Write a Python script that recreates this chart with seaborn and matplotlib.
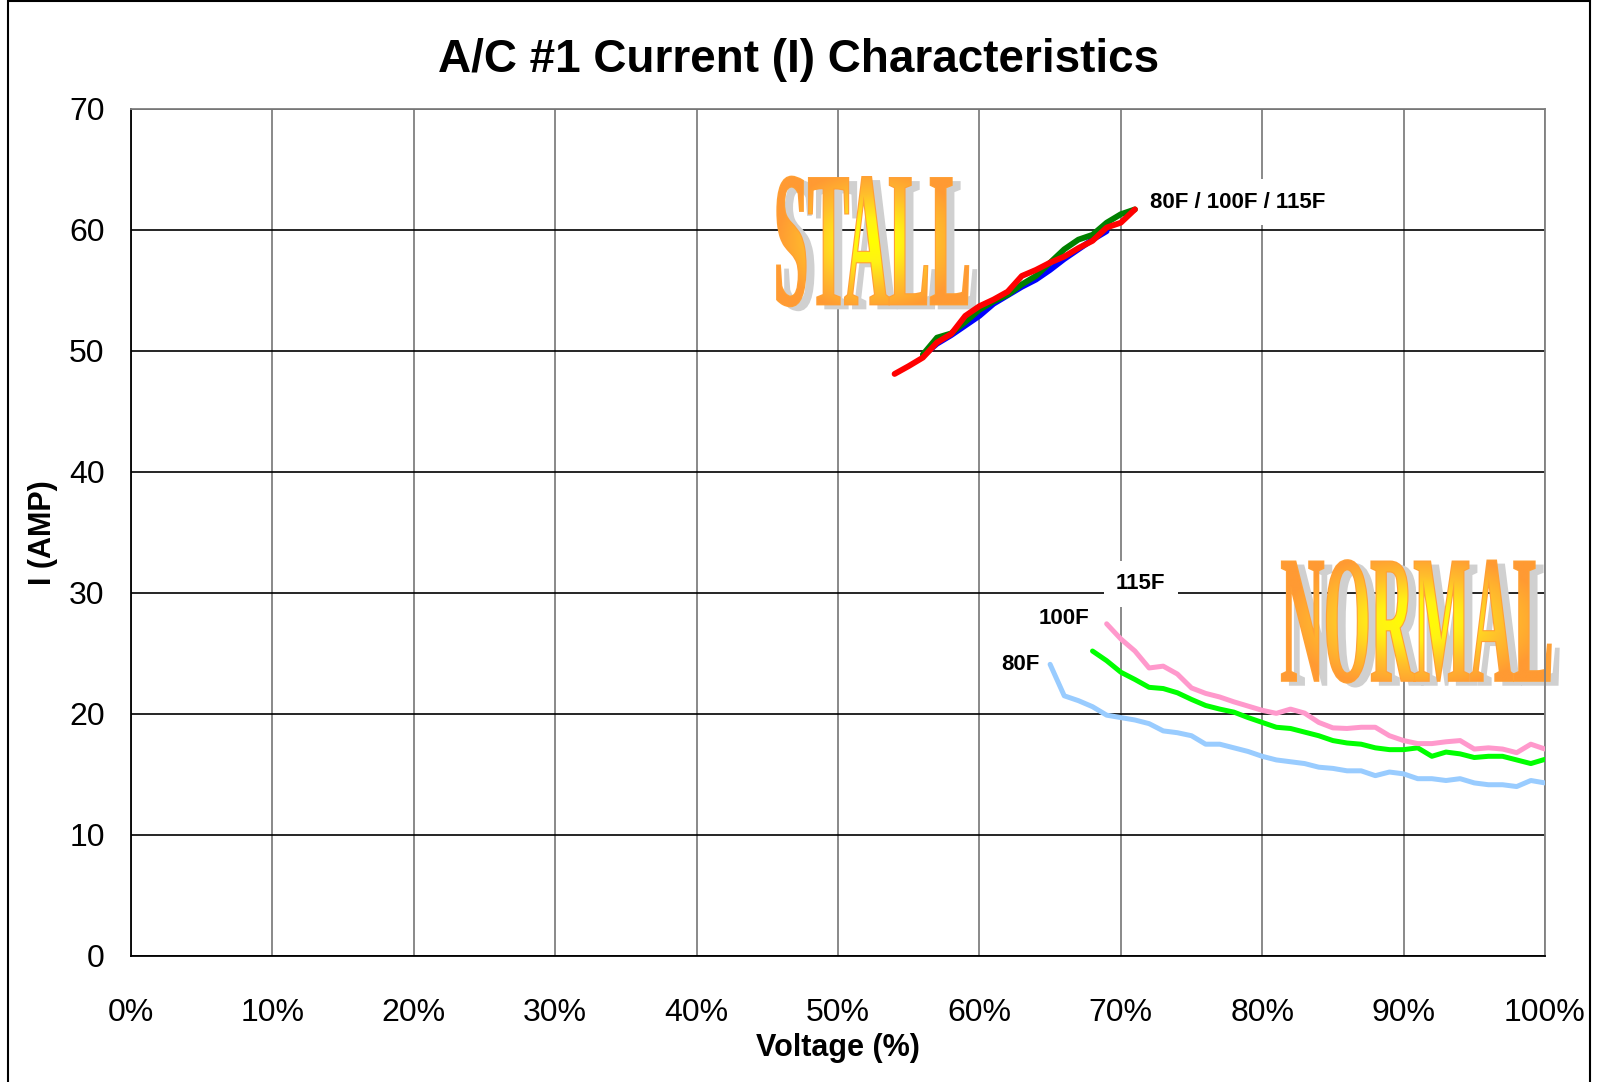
import numpy as np
import matplotlib
matplotlib.use("Agg")
import matplotlib.pyplot as plt
import seaborn as sns
from matplotlib import font_manager
from matplotlib.textpath import TextPath
from matplotlib.font_manager import FontProperties
from matplotlib.patches import PathPatch, Rectangle
from matplotlib.transforms import Affine2D
from matplotlib.colors import LinearSegmentedColormap

# ---- data (voltage in %, current in A) ----
stall_blue_x = list(range(56, 70))
stall_blue_y = [49.6, 50.6, 51.3, 52.1, 52.9, 53.9, 54.6, 55.3, 55.9, 56.7, 57.6, 58.4, 59.2, 59.9]
stall_green_x = list(range(56, 72))
stall_green_y = [49.7, 51.1, 51.45, 52.4, 53.4, 54.1, 54.65, 55.5, 56.2, 57.3, 58.4, 59.2, 59.6,
                 60.6, 61.3, 61.7]
stall_red_x = list(range(54, 72))
stall_red_y = [48.1, 48.75, 49.45, 50.7, 51.4, 52.9, 53.7, 54.25, 54.9, 56.2, 56.7, 57.3, 57.8,
               58.5, 59.1, 60.2, 60.6, 61.7]

normal_80_x = list(range(65, 101))
normal_80_y = [24.1, 21.5, 21.1, 20.6, 19.9, 19.7, 19.5, 19.2, 18.6, 18.45, 18.2, 17.5, 17.5, 17.2,
               16.9, 16.5, 16.2, 16.05, 15.9, 15.6, 15.5, 15.3, 15.3, 14.9, 15.2, 15.05, 14.65,
               14.65, 14.5, 14.65, 14.3, 14.15, 14.15, 14.0, 14.5, 14.3]
normal_100_x = list(range(68, 101))
normal_100_y = [25.2, 24.4, 23.45, 22.85, 22.2, 22.1, 21.75, 21.2, 20.7, 20.4, 20.15, 19.7, 19.3,
                18.9, 18.8, 18.5, 18.2, 17.8, 17.6, 17.5, 17.2, 17.05, 17.05, 17.2, 16.5, 16.85,
                16.7, 16.4, 16.5, 16.5, 16.2, 15.9, 16.25]
normal_115_x = list(range(69, 101))
normal_115_y = [27.45, 26.2, 25.2, 23.8, 23.95, 23.3, 22.15, 21.7, 21.4, 21.0, 20.65, 20.3, 20.05,
                20.4, 20.07, 19.3, 18.85, 18.8, 18.9, 18.9, 18.2, 17.8, 17.55, 17.55, 17.7, 17.8,
                17.1, 17.2, 17.1, 16.8, 17.5, 17.1]

x_ticks = list(range(0, 101, 10))
x_tick_labels = [f"{v}%" for v in x_ticks]
y_ticks = list(range(0, 71, 10))

sns.set_style("white")
available = {f.name for f in font_manager.fontManager.ttflist}
narrow = "Liberation Sans Narrow" if "Liberation Sans Narrow" in available else "Liberation Sans"
tick_size = 26 if narrow == "Liberation Sans Narrow" else 23
plt.rcParams["font.family"] = ["Liberation Sans", "DejaVu Sans"]
plt.rcParams.update({"text.color": "black", "axes.labelcolor": "black",
                     "xtick.color": "black", "ytick.color": "black"})

fig = plt.figure(figsize=(16.06, 10.82), dpi=100)
ax = fig.add_axes([0.0816, 0.1165, 0.8804, 0.7828])

# grid
ax.set_axisbelow(True)
ax.yaxis.grid(True, color="black", lw=1.2)
ax.xaxis.grid(True, color="#808080", lw=1.3)


def word_art(ax, text, x0, x1, y0, y1):
    tp = TextPath((0, 0), text, size=1,
                  prop=FontProperties(family="Liberation Serif", weight="bold"))
    bb = tp.get_extents()
    fit = (Affine2D().translate(-bb.x0, -bb.y0)
           .scale((x1 - x0) / bb.width, (y1 - y0) / bb.height).translate(x0, y0))
    shadow = PathPatch(tp, transform=fit + ax.transData + Affine2D().translate(8, -4),
                       fc="#d0d0d0", ec="#d0d0d0", lw=1.5, zorder=2, clip_on=False)
    ax.add_patch(shadow)
    # thin orange outline to give the letters a little more weight
    ax.add_patch(PathPatch(tp, transform=fit + ax.transData, fc="#ffa035", ec="#ffa035",
                           lw=1.6, zorder=2.05, clip_on=False))
    face = PathPatch(tp, transform=fit + ax.transData, fc="none", ec="none")
    gx, gy = np.meshgrid(np.linspace(-1, 1, 300), np.linspace(-1, 1, 200))
    r = np.clip(np.hypot(gx, gy * 0.9), 0, 1)
    cmap = LinearSegmentedColormap.from_list(
        "wa", [(0, "#ffff00"), (0.3, "#fff214"), (0.65, "#ffbf2c"), (1, "#ff9a33")])
    im = ax.imshow(r, cmap=cmap, extent=[x0, x1, y0, y1], origin="lower", aspect="auto",
                   zorder=2.1, interpolation="bilinear", vmin=0, vmax=1)
    im.set_clip_path(face)
    im.set_clip_box(None)


word_art(ax, "STALL", 45.7, 59.2, 53.7, 64.4)
word_art(ax, "NORMAL", 81.4, 100.4, 22.6, 32.7)

# lines
lw_s, lw_n = 4.2, 3.6
sns.lineplot(x=stall_blue_x, y=stall_blue_y, color="#0000ff", lw=lw_s, ax=ax, zorder=3)
sns.lineplot(x=stall_green_x, y=stall_green_y, color="#008000", lw=lw_s, ax=ax, zorder=3)
sns.lineplot(x=stall_red_x, y=stall_red_y, color="#ff0000", lw=lw_s, ax=ax, zorder=3)
sns.lineplot(x=normal_80_x, y=normal_80_y, color="#99ccff", lw=lw_n, ax=ax, zorder=3)
sns.lineplot(x=normal_100_x, y=normal_100_y, color="#00ff00", lw=lw_n, ax=ax, zorder=3)
sns.lineplot(x=normal_115_x, y=normal_115_y, color="#ff99cc", lw=lw_n, ax=ax, zorder=3)
for ln in ax.lines:
    ln.set_solid_capstyle("round")
    ln.set_solid_joinstyle("round")

# labels on the chart
lab = dict(fontsize=16, fontweight="bold", zorder=4, color="black")
ax.text(72.1, 62.3, "80F / 100F / 115F", ha="left", va="center",
        bbox=dict(fc="white", ec="none", boxstyle="square,pad=0.55"), **lab)
ax.text(71.4, 30.75, "115F", ha="center", va="center",
        bbox=dict(fc="white", ec="none", boxstyle="square,pad=0.55"), **lab)
ax.text(66.0, 27.85, "100F", ha="center", va="center", **lab)
ax.text(62.9, 24.1, "80F", ha="center", va="center", **lab)

ax.set_xlim(0, 100)
ax.set_ylim(0, 70)
ax.set_xticks(x_ticks)
ax.set_xticklabels(x_tick_labels)
ax.set_yticks(y_ticks)
for t in ax.get_xticklabels() + ax.get_yticklabels():
    t.set_fontfamily(narrow)
    t.set_fontsize(tick_size)
ax.tick_params(axis="x", direction="out", length=8, width=1.2, color="black", pad=22)
ax.tick_params(axis="y", direction="out", length=7, width=1.2, color="black", pad=12)

for side in ["top", "right"]:
    ax.spines[side].set_color("#808080")
    ax.spines[side].set_linewidth(1.3)
for side in ["left", "bottom"]:
    ax.spines[side].set_color("black")
    ax.spines[side].set_linewidth(1.3)

ax.set_xlabel("Voltage (%)", fontsize=22, fontweight="bold", labelpad=4)
ax.set_ylabel("I (AMP)", fontsize=22, fontweight="bold", labelpad=8)

fig.text(0.497, 1 - 72 / 1082, "A/C #1 Current (I) Characteristics", ha="center",
         va="baseline", fontsize=33, fontweight="bold", color="black")

# outer chart border
fig.patches.append(Rectangle((8 / 1606, -0.01), (1590 - 8) / 1606, 1.01 - 6 / 1082 + 0.0045,
                             transform=fig.transFigure, fill=False, ec="black", lw=1.5))

fig.savefig("out.png", dpi=100)
